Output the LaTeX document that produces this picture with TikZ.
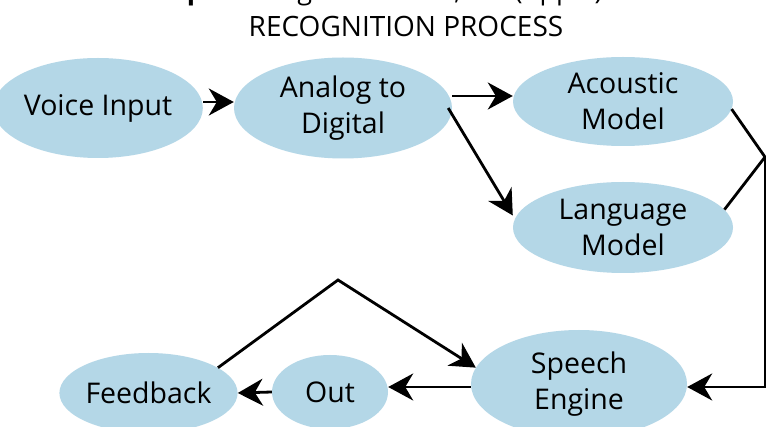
\documentclass[tikz,border=0pt]{standalone}
\usepackage{fontspec}
\setmainfont{Open Sans}
\usetikzlibrary{arrows.meta,shapes.geometric}
\definecolor{bub}{HTML}{B4D7E7}
\tikzset{
  bubble/.style={ellipse, fill=bub, draw=none, inner sep=0pt, align=center,
    font=\fontsize{28.5}{36}\selectfont},
  conn/.style={line width=2.8pt, draw=black},
  arr/.style={conn, -{Stealth[length=25pt,width=27pt,inset=8pt]}},
}
\begin{document}
\begin{tikzpicture}[x=1pt,y=-1pt]
\fill[white] (0,0) rectangle (766,427);
\useasboundingbox (0,0) rectangle (766,427);
\begin{scope}
\clip (0,0) rectangle (766,427);
\node[anchor=base, font=\fontsize{27}{34}\selectfont] (top) at (358,0) {\textbf{Example:} Google Assistant, Siri (Apple)};
\end{scope}
\node[anchor=base, font=\fontsize{28}{34}\selectfont] (title) at (406,37) {RECOGNITION PROCESS};

\node[bubble, minimum width=180pt, minimum height=100pt] (vin) at (98,108) {Voice Input};
\node[bubble, minimum width=218pt, minimum height=101pt] (adc) at (343,108) {Analog to\\Digital};
\node[bubble, minimum width=220pt, minimum height=89pt] (ac) at (623,101.5) {Acoustic\\Model};
\node[bubble, minimum width=220pt, minimum height=91pt] (lm) at (623,227.5) {Language\\Model};
\node[bubble, minimum width=216pt, minimum height=108pt] (se) at (579,384) {Speech\\Engine};
\node[bubble, minimum width=116pt, minimum height=74pt] (out) at (330,392) {Out};
\node[bubble, minimum width=147pt, minimum height=80pt] (fb) at (148.5,393) {Feedback};

\coordinate (J) at (765,157);
\coordinate (P) at (338,280);
\coordinate (R) at (765,387);

\draw[arr] ([yshift=6pt]vin.east) -- ([yshift=6pt]adc.west);
\draw[arr] ([yshift=12pt]adc.east) -- ([yshift=5.5pt]ac.west);
\draw[arr] ([xshift=-4pt]adc.east) -- ([yshift=12pt]lm.west);
\draw[conn] (ac.-4) -- (J) -- (lm.10);
\draw[arr] (J) -- (R) -- ([yshift=-3pt]se.east);
\draw[arr] ([yshift=-3pt]se.west) -- ([yshift=5pt]out.east);
\draw[arr] (out.west) -- (fb.east);
\draw[arr] (fb.20) -- (P) -- (se.171);
\end{tikzpicture}
\end{document}
